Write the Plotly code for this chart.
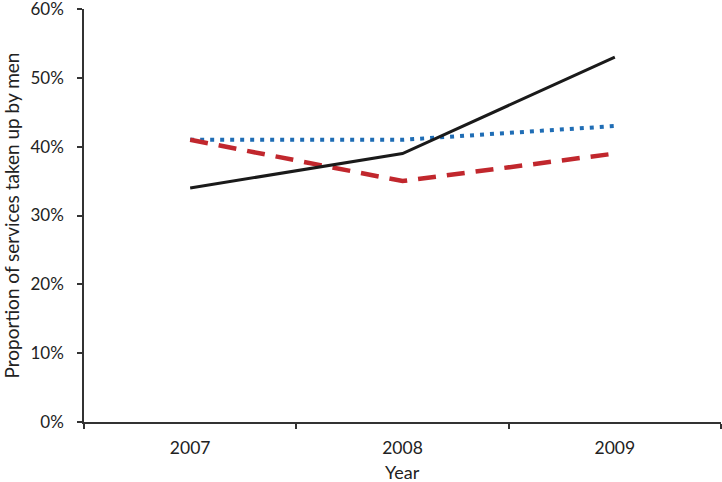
import plotly.graph_objects as go

years = ["2007", "2008", "2009"]
series_black = [34, 39, 53]
series_blue = [41, 41, 43]
series_red = [41, 35, 39]
y_ticks = [0, 10, 20, 30, 40, 50, 60]
y_tick_labels = ["0%", "10%", "20%", "30%", "40%", "50%", "60%"]

fig = go.Figure()
fig.add_trace(go.Scatter(x=years, y=series_blue, mode="lines",
                         line=dict(color="#1f6db5", width=4, dash="4px,6px"),
                         showlegend=False, cliponaxis=False))
fig.add_trace(go.Scatter(x=years, y=series_red, mode="lines",
                         line=dict(color="#c1272d", width=4.5, dash="18px,11px"),
                         showlegend=False, cliponaxis=False))
fig.add_trace(go.Scatter(x=years, y=series_black, mode="lines",
                         line=dict(color="#1a1a1a", width=3),
                         showlegend=False, cliponaxis=False))

font = "Lato, 'Noto Sans', sans-serif"
fig.update_layout(
    width=722, height=482,
    margin=dict(l=84, r=1, t=9, b=60),
    paper_bgcolor="white", plot_bgcolor="white",
    font=dict(family=font, size=17, color="#222222"),
    xaxis=dict(type="category", range=[-0.5, 2.5], showline=True, linecolor="#333333",
               linewidth=1.5, ticks="outside", tickson="boundaries", ticklen=5,
               tickcolor="#333333", tickwidth=1.5, showgrid=False, zeroline=False,
               automargin=False, ticklabelstandoff=9, ticklabeloverflow="allow",
               tickfont=dict(size=17.5)),
    yaxis=dict(range=[0, 60], tickvals=y_ticks, ticktext=y_tick_labels,
               showline=True, linecolor="#333333", linewidth=1.5,
               ticks="outside", ticklen=5, tickcolor="#333333", tickwidth=1.5,
               showgrid=False, zeroline=False, automargin=False, ticklabelstandoff=10,
               ticklabeloverflow="allow", tickfont=dict(size=17),
               title=dict(text="Proportion of services taken up by men", standoff=11,
                          font=dict(size=19))),
    annotations=[dict(text="Year", x=0.5, y=0, xref="paper", yref="paper",
                      xanchor="center", yanchor="top", yshift=-37, showarrow=False,
                      font=dict(size=18))],
)
fig.write_html("out.html", config={"displayModeBar": False},
               post_script="document.body.style.margin='0px';")
